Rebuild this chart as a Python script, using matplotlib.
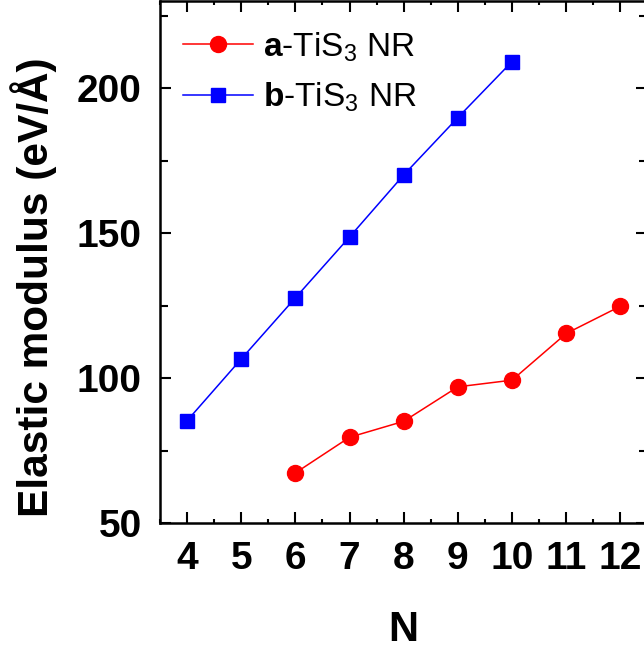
import numpy as np
import matplotlib.pyplot as plt
from matplotlib.ticker import MultipleLocator

plt.rcParams['font.family'] = 'Liberation Sans'
plt.rcParams['mathtext.fontset'] = 'custom'
plt.rcParams['mathtext.rm'] = 'Liberation Sans'
plt.rcParams['mathtext.bf'] = 'Liberation Sans:bold'

# elastic modulus vs. ribbon width N
n_a = [6, 7, 8, 9, 10, 11, 12]
mod_a = [67.3, 79.6, 85.1, 97.0, 99.3, 115.4, 124.8]
n_b = [4, 5, 6, 7, 8, 9, 10]
mod_b = [85.3, 106.6, 127.7, 148.7, 170.1, 189.9, 209.2]

fig = plt.figure(figsize=(6.44, 6.53), dpi=100)
ax = fig.add_axes([0.2484, 0.199, 0.757, 0.799])

ax.plot(n_a, mod_a, '-o', color='#ff0000', lw=1.1, ms=11.5,
        label=r'$\mathbf{a}$-TiS$_3$ NR')
ax.plot(n_b, mod_b, '-s', color='#0000ff', lw=1.1, ms=10,
        label=r'$\mathbf{b}$-TiS$_3$ NR')

ax.set_xlim(3.5, 12.5)
ax.set_ylim(50, 230)
ax.xaxis.set_major_locator(MultipleLocator(1))
ax.xaxis.set_minor_locator(MultipleLocator(0.5))
ax.yaxis.set_major_locator(MultipleLocator(50))
ax.yaxis.set_minor_locator(MultipleLocator(25))

for s in ax.spines.values():
    s.set_linewidth(1.8)
ax.tick_params(which='both', direction='in', top=True, right=True, width=1.5)
ax.tick_params(which='major', length=8, labelsize=28, pad=13)
ax.tick_params(which='minor', length=3)
ax.tick_params(axis='y', which='minor', length=6)
for lab in ax.get_xticklabels() + ax.get_yticklabels():
    lab.set_fontweight('bold')

ax.set_xlabel('N', fontsize=30, fontweight='bold', labelpad=24)
ax.set_ylabel('Elastic modulus (eV/Å)', fontsize=30.5, fontweight='bold')
ax.yaxis.set_label_coords(-0.211, 0.452)

ax.legend(loc='upper left', bbox_to_anchor=(0.0, 0.99), frameon=False,
          fontsize=24, handlelength=2.1, labelspacing=0.5, handletextpad=0.3,
          borderaxespad=0.3)

fig.savefig('out.png', dpi=100)
